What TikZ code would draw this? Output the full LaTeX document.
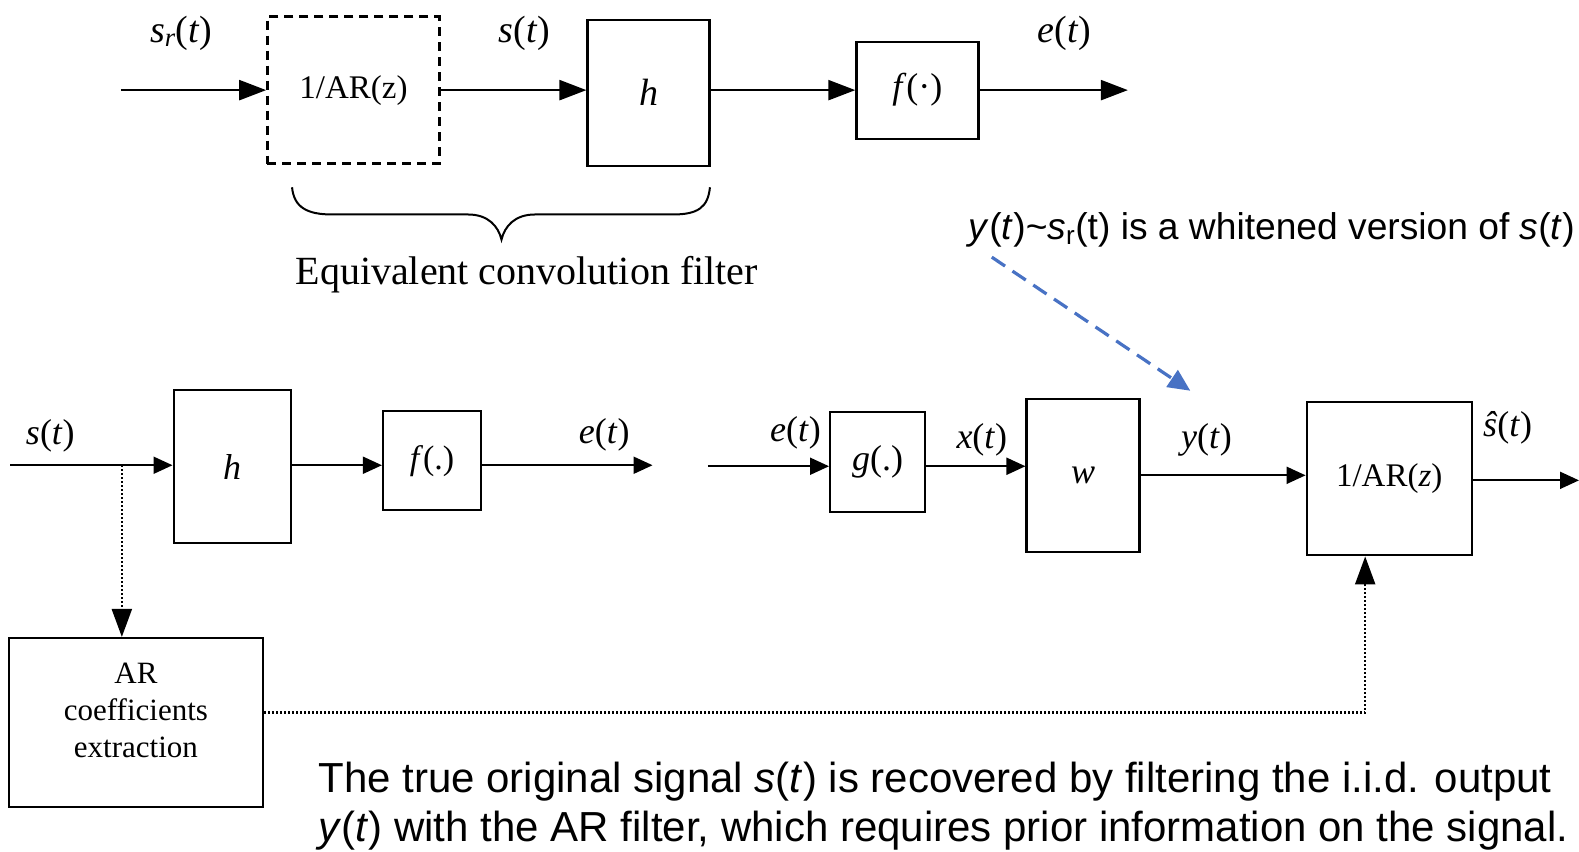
\documentclass[tikz,border=0pt]{standalone}
\usepackage{fontspec}
\setmainfont{Liberation Serif}
\newfontfamily\sansf{Liberation Sans}
\usetikzlibrary{arrows.meta}
\definecolor{annblue}{RGB}{72,114,196}
\begin{document}
\begin{tikzpicture}[x=1.007pt,y=-1.007pt,
  box/.style={draw,line width=2.2pt,inner sep=0pt,font=\fontsize{33}{38}\selectfont},
  dbox/.style={box,line width=2.6pt,dash pattern=on 9pt off 6pt},
  lab/.style={inner sep=0pt,font=\fontsize{38}{40}\selectfont},
  sig/.style={line width=2.4pt,-{Triangle[length=27pt,width=20pt]}},
  sigs/.style={line width=1.9pt,-{Triangle[length=19pt,width=17pt]}},
  dotline/.style={line width=2.2pt,dash pattern=on 2pt off 2pt},
  dotarrow/.style={dotline,-{Triangle[length=28pt,width=20pt]}},
  annot/.style={inner sep=0pt,font=\sansf\fontsize{37.2}{50}\selectfont},
  btext/.style={inner sep=0pt,font=\sansf\fontsize{42}{49}\selectfont},
  bluearrow/.style={annblue,line width=3.2pt,dash pattern=on 16pt off 9pt,-{Triangle[length=22pt,width=20pt]}},
]
\useasboundingbox (0,0) rectangle (1568,846);
% ---------- top row ----------
\node[dbox,minimum width=172pt,minimum height=147pt] (ar1) at (351,89.5) {1/AR(z)};
\node[box,minimum width=122pt,minimum height=146pt,font=\fontsize{38}{40}\selectfont\itshape] (h1) at (644,92) {h};
\node[box,minimum width=122pt,minimum height=97pt,font=\fontsize{36}{40}\selectfont] (f1) at (911,89.5) {\textit{f}(·)};
\coordinate (in1) at (120,89.5);
\coordinate (out1) at (1120,89.5);
\draw[sig] (in1) -- (ar1.west);
\draw[sig] (ar1.east) -- (h1.west |- ar1.east);
\draw[sig] (h1.east |- ar1.east) -- (f1.west);
\draw[sig] (f1.east) -- (out1);
\node[lab] (srl) at (180,33) {\textit{s}\textsubscript{\textit{r}}(\textit{t})};
\node[lab] (sl) at (521,33) {\textit{s}(\textit{t})};
\node[lab] (el) at (1057,33) {\textit{e}(\textit{t})};
% brace
\draw[line width=2pt] (290,186) .. controls (292,206) and (305,213) .. (330,213) -- (465,213)
  .. controls (485,213) and (495,225) .. (498,238) .. controls (501,225) and (511,213) .. (531,213)
  -- (668,213) .. controls (693,213) and (703,206) .. (705,186);
\node[lab,font=\fontsize{40}{44}\selectfont] (eqf) at (523,273) {Equivalent convolution filter};
% ---------- annotation ----------
\node[annot,anchor=west] (ann) at (962,228) {\textit{y}(\textit{t})\textasciitilde\textit{s}\textsubscript{r}(t) is a whitened version of \textit{s}(\textit{t})};
\coordinate (tip) at (1182,388);
\draw[bluearrow] ([xshift=23pt,yshift=-10pt]ann.south west) -- (tip);
% ---------- bottom left ----------
\node[box,minimum width=117pt,minimum height=153pt,font=\fontsize{36}{40}\selectfont\itshape] (h2) at (230.5,463.5) {h};
\node[box,minimum width=98pt,minimum height=99pt,font=\fontsize{34}{40}\selectfont] (f2) at (429,457.5) {\textit{f}(.)};
\coordinate (in2) at (10,462);
\coordinate (tap) at (121,462);
\coordinate (out2) at (648,462);
\draw[sigs] (in2) -- (in2 -| h2.west);
\draw[sigs] (h2.east |- in2) -- (f2.west |- in2);
\draw[sigs] (f2.east |- in2) -- (out2);
\node[lab,font=\fontsize{36}{40}\selectfont] (sl2) at (50,433) {\textit{s}(\textit{t})};
\node[lab,font=\fontsize{36}{40}\selectfont] (el2) at (600,432) {\textit{e}(\textit{t})};
\node[box,minimum width=254pt,minimum height=169pt] (arx) at (135,717.5) {};
\node[inner sep=0pt,align=center,font=\fontsize{31}{37}\selectfont] (arxt) at (135,705) {AR\\coefficients\\extraction};
\draw[dotarrow] (tap) -- (tap |- arx.north);
% ---------- bottom right ----------
\node[box,minimum width=95pt,minimum height=100pt,font=\fontsize{36}{40}\selectfont] (g) at (871.5,459) {\textit{g}(.)};
\node[box,minimum width=113pt,minimum height=153pt,font=\fontsize{36}{40}\selectfont\itshape] (w) at (1075.5,472.5) {w};
\node[box,minimum width=165pt,minimum height=153pt] (ar2) at (1379.5,475.5) {1/AR(\textit{z})};
\coordinate (in3) at (703,463);
\coordinate (out3) at (1568,477);
\draw[sigs] (in3) -- (in3 -| g.west);
\draw[sigs] (g.east |- in3) -- (w.west |- in3);
\draw[sigs] (w.east |- 0,472) -- (ar2.west |- 0,472);
\draw[sigs] (ar2.east |- out3) -- (out3);
\node[lab,font=\fontsize{36}{40}\selectfont] (el3) at (790,430) {\textit{e}(\textit{t})};
\node[lab,font=\fontsize{36}{40}\selectfont] (xl) at (975,437) {\textit{x}(\textit{t})};
\node[lab,font=\fontsize{36}{40}\selectfont] (yl) at (1198,437) {\textit{y}(\textit{t})};
\node[lab,font=\fontsize{36}{40}\selectfont] (shl) at (1497,425) {\textit{ŝ}(\textit{t})};
\coordinate (fb) at ([xshift=-24pt]ar2.south);
\draw[dotline] ([yshift=10pt]arx.east) -| ([yshift=-28pt]fb);
\draw[dotarrow] ([yshift=-30pt]fb) -- (fb);
% ---------- bottom text ----------
\node[btext,anchor=north west,align=left] (btxt) at (316,757) {The true original signal \textit{s}(\textit{t}) is recovered by filtering the i.i.d. output\\\textit{y}(\textit{t}) with the AR filter, which requires prior information on the signal.};
\end{tikzpicture}
\end{document}
